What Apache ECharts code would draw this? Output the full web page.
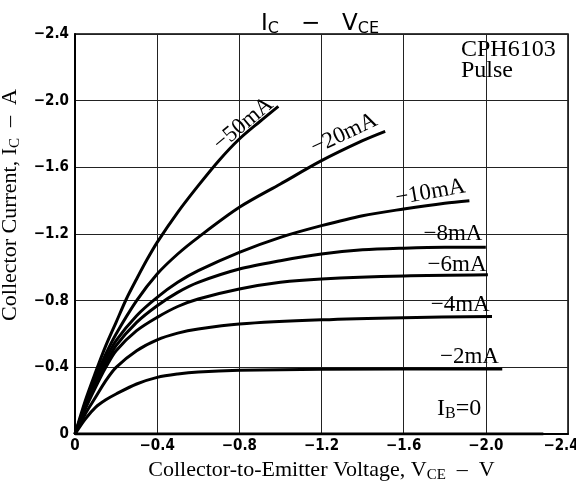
<!DOCTYPE html>
<html>
<head>
<meta charset="utf-8">
<script src="https://cdn.jsdelivr.net/npm/echarts@6/dist/echarts.min.js"></script>
<style>
  html, body { margin: 0; background: #fff; }
  #chart { width: 576px; height: 482px; }
</style>
</head>
<body>
<div id="chart"></div>
<script>
// tick labels
const xTicks = ["0", "\u22120.4", "\u22120.8", "\u22121.2", "\u22121.6", "\u22122.0", "\u22122.4"];
const yTicks = ["0", "\u22120.4", "\u22120.8", "\u22121.2", "\u22121.6", "\u22122.0", "\u22122.4"];

// [VCE (V), IC (A)]
const ib50 = [[0, 0], [-0.05, -0.2], [-0.1, -0.37], [-0.15, -0.53], [-0.2, -0.67], [-0.25, -0.81], [-0.3, -0.93], [-0.35, -1.045], [-0.4, -1.15], [-0.5, -1.33], [-0.6, -1.49], [-0.7, -1.64], [-0.8, -1.77], [-0.9, -1.875], [-0.99, -1.966]];
const ib20 = [[0, 0], [-0.05, -0.18], [-0.1, -0.34], [-0.15, -0.48], [-0.2, -0.6], [-0.3, -0.8], [-0.4, -0.96], [-0.5, -1.08], [-0.6, -1.18], [-0.8, -1.36], [-1.0, -1.5], [-1.2, -1.64], [-1.4, -1.76], [-1.51, -1.816]];
const ib10 = [[0, 0], [-0.05, -0.17], [-0.1, -0.32], [-0.15, -0.45], [-0.2, -0.56], [-0.3, -0.71], [-0.4, -0.82], [-0.5, -0.91], [-0.6, -0.98], [-0.8, -1.09], [-1.0, -1.18], [-1.2, -1.25], [-1.4, -1.31], [-1.6, -1.35], [-1.8, -1.385], [-1.92, -1.4]];
const ib8 = [[0, 0], [-0.05, -0.16], [-0.1, -0.3], [-0.15, -0.42], [-0.2, -0.53], [-0.3, -0.67], [-0.4, -0.77], [-0.5, -0.85], [-0.6, -0.91], [-0.8, -0.99], [-1.0, -1.04], [-1.2, -1.08], [-1.4, -1.105], [-1.6, -1.115], [-1.8, -1.12], [-2.0, -1.12]];
const ib6 = [[0, 0], [-0.05, -0.15], [-0.1, -0.28], [-0.15, -0.4], [-0.2, -0.5], [-0.3, -0.62], [-0.4, -0.7], [-0.5, -0.765], [-0.6, -0.81], [-0.8, -0.87], [-1.0, -0.91], [-1.2, -0.93], [-1.6, -0.948], [-2.01, -0.955]];
const ib4 = [[0, 0], [-0.05, -0.12], [-0.1, -0.22], [-0.15, -0.32], [-0.2, -0.4], [-0.3, -0.5], [-0.4, -0.565], [-0.5, -0.605], [-0.6, -0.63], [-0.8, -0.66], [-1.2, -0.685], [-1.6, -0.698], [-2.03, -0.705]];
const ib2 = [[0, 0], [-0.05, -0.09], [-0.1, -0.16], [-0.15, -0.205], [-0.2, -0.24], [-0.3, -0.3], [-0.4, -0.34], [-0.5, -0.36], [-0.6, -0.372], [-0.8, -0.382], [-1.2, -0.388], [-2.08, -0.39]];
const ib0 = [[0, 0], [-2.28, 0]];

const serif = "'Liberation Serif', 'DejaVu Serif', serif";
const din = "'DejaVu Sans Condensed', 'DejaVu Sans', sans-serif";

// curve, label text, label centre (data units), label angle
const curves = [
  { data: ib50, label: "\u221250mA", at: [-0.82, -1.86], rot: 40 },
  { data: ib20, label: "\u221220mA", at: [-1.31, -1.8], rot: 25 },
  { data: ib10, label: "\u221210mA", at: [-1.73, -1.45], rot: 10 },
  { data: ib8, label: "\u22128mA", at: [-1.84, -1.2], rot: 0 },
  { data: ib6, label: "\u22126mA", at: [-1.86, -1.015], rot: 0 },
  { data: ib4, label: "\u22124mA", at: [-1.875, -0.775], rot: 0 },
  { data: ib2, label: "\u22122mA", at: [-1.92, -0.462], rot: 0 },
  { data: ib0, label: "{m|I}{s|B}{m|=0}", at: [-1.87, -0.15], rot: 0 }
];

const subStyle = {
  m: { fontFamily: serif, fontSize: 22, color: "#000" },
  s: { fontFamily: serif, fontSize: 15, color: "#000", padding: [10, 0, 0, 0] }
};
const labelStyle = {
  m: { fontFamily: serif, fontSize: 24, color: "#000" },
  s: { fontFamily: serif, fontSize: 16, color: "#000", padding: [10, 0, 0, 0] }
};

const chart = echarts.init(document.getElementById("chart"));
chart.setOption({
  animation: false,
  title: {
    text: "{m|I}{s|C}{m|   \u2212   V}{s|CE}",
    left: 256,
    top: 6,
    textStyle: {
      rich: {
        m: { fontFamily: "'DejaVu Sans', sans-serif", fontSize: 23, fontWeight: "normal", color: "#000" },
        s: { fontFamily: "'DejaVu Sans', sans-serif", fontSize: 16, fontWeight: "normal", color: "#000", padding: [10, 0, 0, 0] }
      }
    }
  },
  grid: {
    left: 75, right: 8, top: 34, bottom: 48,
    outerBoundsMode: "none",
    show: true, borderColor: "#000", borderWidth: 1.5
  },
  xAxis: {
    type: "value",
    min: -2.4, max: 0, interval: 0.4,
    inverse: true,
    name: "{m|Collector-to-Emitter Voltage, V}{s|CE}{m|  \u2013  V}",
    nameLocation: "middle",
    nameGap: 20,
    nameTextStyle: { rich: subStyle },
    axisLine: { lineStyle: { color: "#000", width: 2 } },
    axisTick: { show: false },
    axisLabel: {
      color: "#000", fontFamily: din, fontSize: 15, fontWeight: "bold", margin: 5,
      formatter: (v) => {
        const t = xTicks[Math.round(-v / 0.4)];
        return v <= -2.4 ? "{e|" + t + "}" : t;
      },
      rich: {
        e: { color: "#000", fontFamily: din, fontSize: 15, fontWeight: "bold", padding: [0, 14, 0, 0] }
      }
    },
    splitLine: { lineStyle: { color: "#222", width: 1 } }
  },
  yAxis: {
    type: "value",
    min: -2.4, max: 0, interval: 0.4,
    inverse: true,
    name: "{m|Collector Current, I}{s|C}{m|  \u2013  A}",
    nameLocation: "middle",
    nameGap: 52,
    nameRotate: 90,
    nameTextStyle: { rich: subStyle, padding: [0, 0, 0, 58] },
    axisLine: { lineStyle: { color: "#000", width: 2 } },
    axisTick: { show: false },
    axisLabel: {
      color: "#000", fontFamily: din, fontSize: 15, fontWeight: "bold", margin: 6,
      formatter: (v) => yTicks[Math.round(-v / 0.4)]
    },
    splitLine: { lineStyle: { color: "#222", width: 1 } }
  },
  graphic: [
    {
      type: "text", left: 461, top: 38,
      style: { text: "CPH6103\nPulse", font: "24px " + serif, fill: "#000", lineHeight: 21 }
    }
  ],
  series: curves.map((c) => ({
    type: "line",
    data: c.data,
    smooth: 0.3,
    symbol: "none",
    silent: true,
    lineStyle: { color: "#000", width: 3 },
    markPoint: {
      symbol: "circle",
      symbolSize: 0,
      silent: true,
      data: [{ coord: c.at }],
      label: {
        show: true,
        position: "inside",
        formatter: c.label,
        rotate: c.rot,
        fontFamily: serif,
        fontSize: 23,
        color: "#000",
        rich: labelStyle
      }
    }
  }))
});
</script>
</body>
</html>
